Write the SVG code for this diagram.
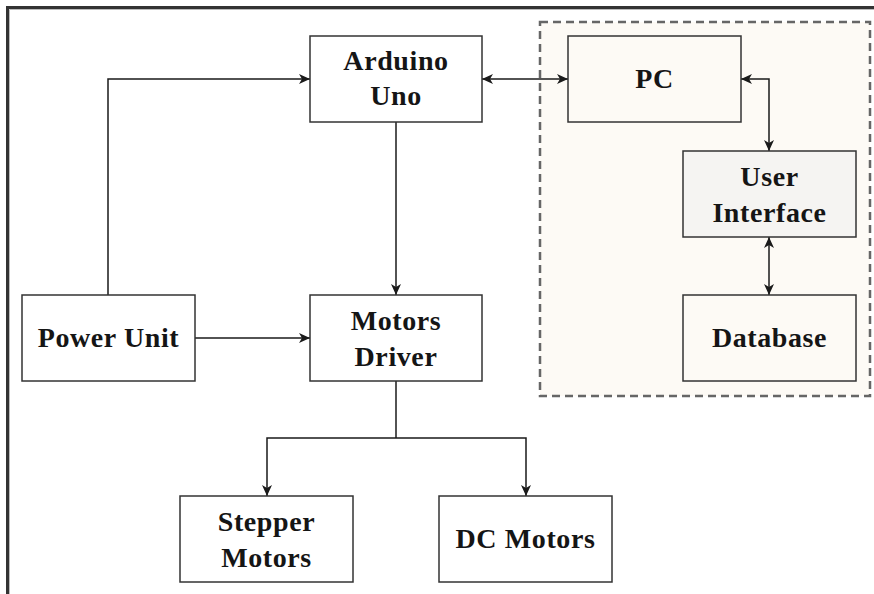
<svg xmlns="http://www.w3.org/2000/svg" width="874" height="594" viewBox="0 0 874 594">
<defs>
<marker id="ah" viewBox="0 0 11 10" refX="11" refY="5" markerWidth="11" markerHeight="10" markerUnits="userSpaceOnUse" orient="auto-start-reverse">
<path d="M0,0 L11,5 L0,10 L3,5 z" fill="#1a1a1a"/>
</marker>
</defs>
<style>
.box{fill:#ffffff;stroke:#333333;stroke-width:1.5}
.t{font-family:"Liberation Serif","Times New Roman",serif;font-weight:bold;font-size:28px;letter-spacing:0.6px;fill:#151515;text-anchor:middle}
.c{fill:none;stroke:#1a1a1a;stroke-width:1.5}
</style>
<rect width="874" height="594" fill="#ffffff"/>
<path d="M7.5,594 V7.5 H874" fill="none" stroke="#333333" stroke-width="3"/>
<path d="M9.5,594 V9.5 H874" fill="none" stroke="#bbbbbb" stroke-width="1"/>
<g id="pc-group">
<rect x="540" y="22" width="330" height="374" fill="#fdfaf5" stroke="#666666" stroke-width="2.5" stroke-dasharray="8,5"/>
</g>
<g id="connectors">
<path class="c" d="M108,295 V79 H310" marker-end="url(#ah)"/>
<path class="c" d="M195,338 H310" marker-end="url(#ah)"/>
<path class="c" d="M396,122 V295" marker-end="url(#ah)"/>
<path class="c" d="M482,79 H568" marker-start="url(#ah)" marker-end="url(#ah)"/>
<path class="c" d="M741,79 H769 V151" marker-start="url(#ah)" marker-end="url(#ah)"/>
<path class="c" d="M769,237 V295" marker-start="url(#ah)" marker-end="url(#ah)"/>
<path class="c" d="M396,381 V438"/>
<path class="c" d="M396,438 H267 V496" marker-end="url(#ah)"/>
<path class="c" d="M396,438 H526 V496" marker-end="url(#ah)"/>
</g>
<g id="arduino">
<rect class="box" x="310" y="36" width="172" height="86"/>
<text class="t" x="396" y="70">Arduino</text>
<text class="t" x="396" y="105">Uno</text>
</g>
<g id="pc">
<rect class="box" x="568" y="36" width="173" height="86" style="fill:#fdfaf5"/>
<text class="t" x="654.5" y="88">PC</text>
</g>
<g id="user-interface">
<rect class="box" x="683" y="151" width="173" height="86" style="fill:#f5f4f2"/>
<text class="t" x="769.5" y="186">User</text>
<text class="t" x="769.5" y="222">Interface</text>
</g>
<g id="database">
<rect class="box" x="683" y="295" width="173" height="86" style="fill:#fdfaf5"/>
<text class="t" x="769.5" y="347">Database</text>
</g>
<g id="power-unit">
<rect class="box" x="22" y="295" width="173" height="86"/>
<text class="t" x="108.5" y="347">Power Unit</text>
</g>
<g id="motors-driver">
<rect class="box" x="310" y="295" width="172" height="86"/>
<text class="t" x="396" y="330">Motors</text>
<text class="t" x="396" y="366">Driver</text>
</g>
<g id="stepper-motors">
<rect class="box" x="180" y="496" width="173" height="86"/>
<text class="t" x="266.5" y="531">Stepper</text>
<text class="t" x="266.5" y="567">Motors</text>
</g>
<g id="dc-motors">
<rect class="box" x="439" y="496" width="173" height="86"/>
<text class="t" x="525.5" y="548">DC Motors</text>
</g>
</svg>
